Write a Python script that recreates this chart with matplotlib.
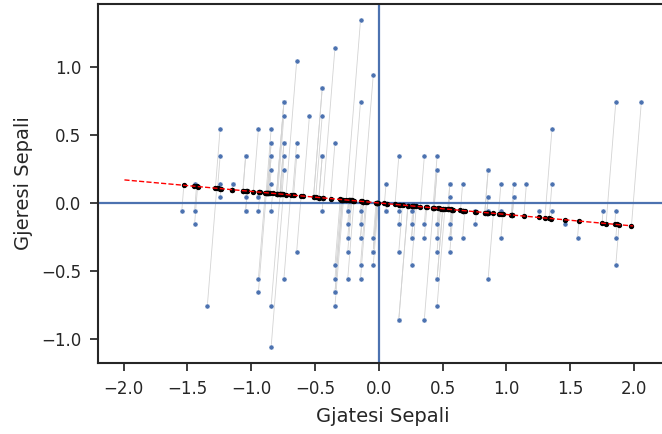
import numpy as np
import matplotlib
matplotlib.use("Agg")
import matplotlib.pyplot as plt
import seaborn as sns

# iris sepal length / width (cm)
sepal_length = [
    5.1, 4.9, 4.7, 4.6, 5.0, 5.4, 4.6, 5.0, 4.4, 4.9, 5.4, 4.8, 4.8, 4.3, 5.8, 5.7, 5.4, 5.1, 5.7, 5.1,
    5.4, 5.1, 4.6, 5.1, 4.8, 5.0, 5.0, 5.2, 5.2, 4.7, 4.8, 5.4, 5.2, 5.5, 4.9, 5.0, 5.5, 4.9, 4.4, 5.1,
    5.0, 4.5, 4.4, 5.0, 5.1, 4.8, 5.1, 4.6, 5.3, 5.0,
    7.0, 6.4, 6.9, 5.5, 6.5, 5.7, 6.3, 4.9, 6.6, 5.2, 5.0, 5.9, 6.0, 6.1, 5.6, 6.7, 5.6, 5.8, 6.2, 5.6,
    5.9, 6.1, 6.3, 6.1, 6.4, 6.6, 6.8, 6.7, 6.0, 5.7, 5.5, 5.5, 5.8, 6.0, 5.4, 6.0, 6.7, 6.3, 5.6, 5.5,
    5.5, 6.1, 5.8, 5.0, 5.6, 5.7, 5.7, 6.2, 5.1, 5.7,
    6.3, 5.8, 7.1, 6.3, 6.5, 7.6, 4.9, 7.3, 6.7, 7.2, 6.5, 6.4, 6.8, 5.7, 5.8, 6.4, 6.5, 7.7, 7.7, 6.0,
    6.9, 5.6, 7.7, 6.3, 6.7, 7.2, 6.2, 6.1, 6.4, 7.2, 7.4, 7.9, 6.4, 6.3, 6.1, 7.7, 6.3, 6.4, 6.0, 6.9,
    6.7, 6.9, 5.8, 6.8, 6.7, 6.7, 6.3, 6.5, 6.2, 5.9,
]
sepal_width = [
    3.5, 3.0, 3.2, 3.1, 3.6, 3.9, 3.4, 3.4, 2.9, 3.1, 3.7, 3.4, 3.0, 3.0, 4.0, 4.4, 3.9, 3.5, 3.8, 3.8,
    3.4, 3.7, 3.6, 3.3, 3.4, 3.0, 3.4, 3.5, 3.4, 3.2, 3.1, 3.4, 4.1, 4.2, 3.1, 3.2, 3.5, 3.6, 3.0, 3.4,
    3.5, 2.3, 3.2, 3.5, 3.8, 3.0, 3.8, 3.2, 3.7, 3.3,
    3.2, 3.2, 3.1, 2.3, 2.8, 2.8, 3.3, 2.4, 2.9, 2.7, 2.0, 3.0, 2.2, 2.9, 2.9, 3.1, 3.0, 2.7, 2.2, 2.5,
    3.2, 2.8, 2.5, 2.8, 2.9, 3.0, 2.8, 3.0, 2.9, 2.6, 2.4, 2.4, 2.7, 2.7, 3.0, 3.4, 3.1, 2.3, 3.0, 2.5,
    2.6, 3.0, 2.6, 2.3, 2.7, 3.0, 2.9, 2.9, 2.5, 2.8,
    3.3, 2.7, 3.0, 2.9, 3.0, 3.0, 2.5, 2.9, 2.5, 3.6, 3.2, 2.7, 3.0, 2.5, 2.8, 3.2, 3.0, 3.8, 2.6, 2.2,
    3.2, 2.8, 2.8, 2.7, 3.3, 3.2, 2.8, 3.0, 2.8, 3.0, 2.8, 3.8, 2.8, 2.8, 2.6, 3.0, 3.4, 3.1, 3.0, 3.1,
    3.1, 3.1, 2.7, 3.2, 3.3, 3.0, 2.5, 3.0, 3.4, 3.0,
]
line_t = [-2.0, 2.0]

sns.set_theme(style="ticks")

X = np.column_stack([sepal_length, sepal_width])
X = X - X.mean(axis=0)
# first principal direction
w, V = np.linalg.eigh(np.cov(X.T))
v = V[:, np.argmax(w)]
if v[0] < 0:
    v = -v
proj = np.outer(X @ v, v)

fig = plt.figure(figsize=(6.62, 4.34), dpi=100)
ax = fig.add_axes([0.148, 0.1636, 0.86, 0.8272])

for p, q in zip(X, proj):
    ax.plot([p[0], q[0]], [p[1], q[1]], color="lightgray", lw=0.6, zorder=1)
ax.scatter(X[:, 0], X[:, 1], s=13, color="#4c72b0", edgecolor="white", linewidth=0.3, zorder=3)
ax.scatter(proj[:, 0], proj[:, 1], s=8, color="black", zorder=3)
lt = np.array(line_t)
ax.plot(lt * v[0], lt * v[1], "--", color="red", lw=1, zorder=4)
ax.axhline(0, color="#4c72b0", lw=1.6, zorder=2)
ax.axvline(0, color="#4c72b0", lw=1.6, zorder=2)

ax.set_xlim(-2.2, 2.26)
ax.set_ylim(-1.177, 1.463)
ax.set_xlabel("Gjatesi Sepali", fontsize=14, labelpad=7)
ax.set_ylabel("Gjeresi Sepali", fontsize=14, labelpad=6)
ax.tick_params(labelsize=12, length=6, pad=6, width=1.25)
for s in ax.spines.values():
    s.set_linewidth(1.5)

fig.savefig("out.png", dpi=100)
